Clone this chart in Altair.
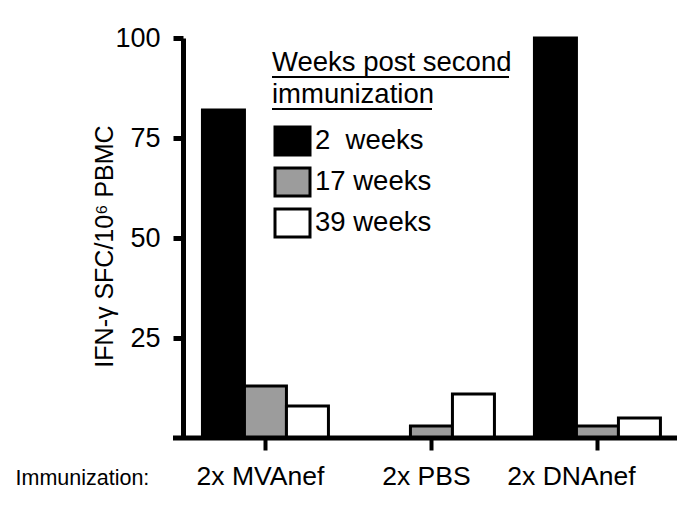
import altair as alt
import pandas as pd

groups = ["2x MVAnef", "2x PBS", "2x DNAnef"]
weeks = ["2\u00a0 weeks", "17 weeks", "39 weeks"]
vals_2w = [82, 0, 100]
vals_17w = [13, 3, 3]
vals_39w = [8, 11, 5]
colors = ["#000000", "#9c9c9c", "#ffffff"]

rows = []
for i, g in enumerate(groups):
    for w, v in zip(weeks, [vals_2w[i], vals_17w[i], vals_39w[i]]):
        rows.append({"group": g, "week": w, "value": v})
df = pd.DataFrame(rows)

W, H = 494, 400
FONT = "Liberation Sans"

bars = alt.Chart(df).mark_bar(stroke="black", strokeWidth=3, cornerRadius=0).encode(
    x=alt.X("group:N", sort=groups,
            scale=alt.Scale(paddingInner=0.241, paddingOuter=0.1085, align=0.54),
            axis=alt.Axis(title="Immunization:", domain=False, grid=False, tickSize=12, tickWidth=4,
                          tickColor="black", labelFont=FONT, labelFontSize=26.5,
                          labelColor="black", labelAngle=0, labelBaseline="alphabetic",
                          labelPadding=34,
                          labelOffset=alt.condition("datum.value == '2x DNAnef'",
                                                    alt.value(-26), alt.value(-5)),
                          titleFont=FONT, titleFontSize=21.5,
                          titleFontWeight="normal", titleColor="black",
                          titleAlign="left", titleBaseline="alphabetic",
                          titleX=-168, titleY=46)),
    xOffset=alt.XOffset("week:N", sort=weeks, scale=alt.Scale(paddingInner=0, paddingOuter=0)),
    y=alt.Y("value:Q", scale=alt.Scale(domain=[0, 100], nice=False),
            axis=alt.Axis(values=[25, 50, 75, 100], title="IFN-γ SFC/10⁶ PBMC",
                          domainWidth=5, domainColor="black", tickWidth=5, tickSize=10,
                          tickColor="black", labelFont=FONT, labelFontSize=27,
                          labelColor="black", labelPadding=13, grid=False,
                          titleFont=FONT, titleFontSize=25, titleFontWeight="normal",
                          titleColor="black", titleAngle=270, titleAlign="center",
                          titleBaseline="alphabetic", titleX=-71, titleY=208)),
    fill=alt.Fill("week:N", sort=weeks,
                  scale=alt.Scale(domain=weeks, range=colors),
                  legend=alt.Legend(orient="none", legendX=89, legendY=11,
                                    title=["Weeks post second", "immunization"],
                                    titleFont=FONT, titleFontSize=27.5, titleLineHeight=32,
                                    titleFontWeight="normal", titleColor="black",
                                    titlePadding=17, titleLimit=500,
                                    symbolType="M-1.25,-1H1.25V1H-1.25Z", symbolSize=784,
                                    symbolStrokeColor="black", symbolStrokeWidth=3,
                                    symbolOpacity=1, symbolOffset=5,
                                    labelFont=FONT, labelFontSize=27.5, labelColor="black",
                                    labelOffset=7, rowPadding=0, labelLimit=300)),
)

xline = alt.Chart(pd.DataFrame({"a": [0]})).mark_rule(color="black", strokeWidth=5).encode(
    x=alt.value(-10), x2=alt.value(W), y=alt.value(H)
)
ul1 = alt.Chart(pd.DataFrame({"a": [0]})).mark_rule(color="black", strokeWidth=2).encode(
    x=alt.value(89), x2=alt.value(326), y=alt.value(39)
)
ul2 = alt.Chart(pd.DataFrame({"a": [0]})).mark_rule(color="black", strokeWidth=2).encode(
    x=alt.value(89), x2=alt.value(249), y=alt.value(71)
)

chart = alt.layer(bars, xline, ul1, ul2).properties(
    width=W, height=H,
    view=alt.ViewBackground(stroke=None, strokeWidth=0, fill="white"),
    autosize=alt.AutoSizeParams(type="none"),
    padding={"left": 175, "top": 30, "right": 0, "bottom": 61},
).configure_view(stroke=None, strokeOpacity=0).configure_axis(grid=False).configure(background="white")

chart.save("out.html", embed_options={"renderer": "svg", "actions": False})
